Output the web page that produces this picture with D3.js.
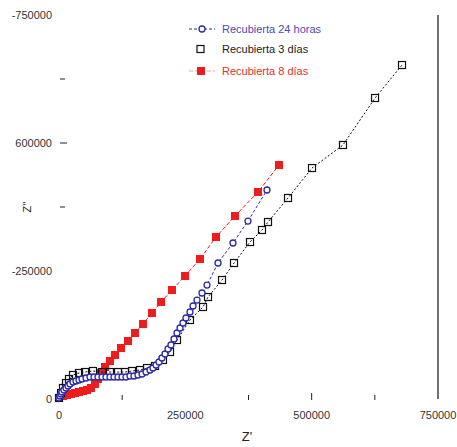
<!DOCTYPE html>
<html>
<head>
<meta charset="utf-8">
<script src="https://cdn.jsdelivr.net/npm/d3@7"></script>
<style>
  html, body { margin: 0; padding: 0; background: #fff; }
  svg { display: block; font-family: "Liberation Sans", Arial, sans-serif; }
</style>
</head>
<body>
<svg id="chart" width="457" height="447"></svg>
<script>
// Nyquist data: Z' (real) and -Z'' (imaginary), ohm
const series24hX = [0, 2000, 4000, 5900, 9900, 13900, 17800, 21800, 27700, 33600, 39600, 45500, 53400, 61300, 69300, 77200, 85100, 93000, 100900, 108800, 116800, 124700, 132600, 140500, 148400, 156300, 164300, 172200, 180100, 186000, 192000, 197900, 203800, 209800, 215700, 221600, 227600, 233500, 239500, 245400, 251300, 259200, 265200, 273100, 283000, 292900, 314700, 344300, 374000, 411600];
const series24hY = [2000, 5900, 9800, 13700, 17600, 21500, 25400, 29300, 33200, 35200, 37100, 39100, 41000, 43000, 43000, 43000, 43000, 43000, 43000, 43000, 43000, 43000, 43000, 44900, 44900, 46900, 48800, 52700, 56600, 60500, 66400, 72300, 80100, 87900, 97700, 105500, 117200, 128900, 138700, 148400, 158200, 169900, 181600, 193300, 207000, 222600, 265600, 304700, 347600, 408200];

const series3dX = [0, 4000, 7900, 13900, 19800, 27700, 39600, 51500, 67300, 85100, 100900, 116800, 130600, 144500, 160300, 174200, 190000, 205800, 219700, 233500, 259200, 285000, 294900, 322600, 346300, 378000, 401700, 413600, 453200, 500700, 562000, 625400, 678800];
const series3dY = [2000, 11700, 21500, 31200, 39100, 46900, 50800, 52700, 54700, 52700, 52700, 52700, 52700, 54700, 56600, 60500, 64400, 76200, 91800, 115200, 154300, 179700, 199200, 232400, 265600, 306600, 330100, 345700, 392600, 451100, 496100, 587900, 652300];

const series8dX = [0, 7900, 15800, 23700, 31700, 39600, 47500, 55400, 63300, 71200, 77200, 83100, 91000, 100900, 110800, 122700, 136600, 150400, 166200, 184000, 201900, 223600, 249400, 279000, 310700, 348300, 393800, 435400];
const series8dY = [2000, 5900, 7800, 9800, 11700, 13700, 15600, 17600, 21500, 29300, 39100, 50800, 62500, 74200, 85900, 99600, 113300, 128900, 146500, 168000, 189400, 212900, 240200, 273400, 316400, 357400, 404300, 457000];

const seriesNames = ["Recubierta 24 horas", "Recubierta 3 días", "Recubierta 8 días"];

// axis ticks and their printed labels
const xLabelValues = [0, 250000, 500000, 750000];
const xLabelTexts = ["0", "250000", "500000", "750000"];
const xTickValues = [125000, 375000, 500000, 625000];
const yLabelValues = [0, 250000, 500000, 750000];
const yLabelTexts = ["0", "-250000", "600000", "-750000"];
const yTickValues = [375000, 500000, 625000];

const svg = d3.select("#chart");
const x = d3.scaleLinear().domain([0, 750000]).range([59, 438]);
const y = d3.scaleLinear().domain([0, 750000]).range([399, 15]);

const blue = "#2b2baa", red = "#ee1c1c", black = "#111";

// right frame line
svg.append("line")
  .attr("x1", x(750000)).attr("x2", x(750000))
  .attr("y1", y(750000)).attr("y2", y(0))
  .attr("stroke", "#111").attr("stroke-width", 1.2);

// x ticks and labels
svg.selectAll(".xt").data(xTickValues).enter().append("line")
  .attr("x1", d => x(d)).attr("x2", d => x(d))
  .attr("y1", d => d === 500000 ? y(0) - 6 : y(0) - 4).attr("y2", y(0) + 1)
  .attr("stroke", "#222").attr("stroke-width", 1);
svg.selectAll(".xl").data(xLabelValues).enter().append("text")
  .attr("x", d => x(d)).attr("y", 419)
  .attr("text-anchor", "middle").attr("font-size", 11).attr("fill", "#333")
  .text((d, i) => xLabelTexts[i]);

// y ticks and labels
svg.selectAll(".yt").data(yTickValues).enter().append("line")
  .attr("x1", 60).attr("x2", d => d === 500000 ? 67 : 65)
  .attr("y1", d => y(d)).attr("y2", d => y(d))
  .attr("stroke", "#222").attr("stroke-width", 1);
svg.selectAll(".yl").data(yLabelValues).enter().append("text")
  .attr("x", 52).attr("y", d => y(d) + 4)
  .attr("text-anchor", "end").attr("font-size", 11).attr("fill", "#333")
  .text((d, i) => yLabelTexts[i]);

// axis titles
svg.append("text").attr("x", 247).attr("y", 441)
  .attr("text-anchor", "middle").attr("font-size", 13).attr("fill", "#222").text("Z'");
svg.append("text").attr("transform", "translate(31,207) rotate(-90)")
  .attr("text-anchor", "middle").attr("font-size", 11).attr("fill", "#222").text("Z''");

const line = d3.line().x(d => x(d[0])).y(d => y(d[1]));
const pts = (xs, ys) => xs.map((v, i) => [v, ys[i]]);

// 8 días: filled red squares
const d8 = pts(series8dX, series8dY);
svg.append("path").datum(d8).attr("d", line)
  .attr("fill", "none").attr("stroke", red).attr("stroke-width", 1)
  .attr("stroke-dasharray", "4,2");
svg.selectAll(".m8").data(d8).enter().append("rect")
  .attr("x", d => x(d[0]) - 4).attr("y", d => y(d[1]) - 4)
  .attr("width", 8).attr("height", 8).attr("fill", red);

// 3 días: open black squares
const d3d = pts(series3dX, series3dY);
svg.append("path").datum(d3d).attr("d", line)
  .attr("fill", "none").attr("stroke", black).attr("stroke-width", 1)
  .attr("stroke-dasharray", "2,2");
svg.selectAll(".m3").data(d3d).enter().append("rect")
  .attr("x", d => x(d[0]) - 3.5).attr("y", d => y(d[1]) - 3.5)
  .attr("width", 7).attr("height", 7)
  .attr("fill", "none").attr("stroke", black).attr("stroke-width", 1.2);

// 24 horas: open blue circles
const d24 = pts(series24hX, series24hY);
svg.append("path").datum(d24).attr("d", line)
  .attr("fill", "none").attr("stroke", blue).attr("stroke-width", 1)
  .attr("stroke-dasharray", "3,2");
svg.selectAll(".m24").data(d24).enter().append("circle")
  .attr("cx", d => x(d[0])).attr("cy", d => y(d[1])).attr("r", 3)
  .attr("fill", "#fff").attr("stroke", blue).attr("stroke-width", 1.3);

// legend
const lg = svg.append("g");
const rows = [29, 49, 71];
lg.append("line").attr("x1", 189).attr("x2", 215).attr("y1", rows[0]).attr("y2", rows[0])
  .attr("stroke", blue).attr("stroke-dasharray", "3,2");
lg.append("circle").attr("cx", 202).attr("cy", rows[0]).attr("r", 3)
  .attr("fill", "#fff").attr("stroke", blue).attr("stroke-width", 1.3);
lg.append("rect").attr("x", 197).attr("y", rows[1] - 3.5).attr("width", 7).attr("height", 7)
  .attr("fill", "none").attr("stroke", black).attr("stroke-width", 1.2);
lg.append("line").attr("x1", 189).attr("x2", 215).attr("y1", rows[2]).attr("y2", rows[2])
  .attr("stroke", "#f4a0a0").attr("stroke-dasharray", "4,2");
lg.append("rect").attr("x", 197).attr("y", rows[2] - 4).attr("width", 8).attr("height", 8).attr("fill", red);
const legendColors = ["#4a4ab8", "#222", "#e23030"];
lg.selectAll(".lt").data(seriesNames).enter().append("text")
  .attr("x", 222).attr("y", (d, i) => rows[i] + 4)
  .attr("font-size", 11).attr("fill", (d, i) => legendColors[i])
  .text(d => d);
</script>
</body>
</html>
